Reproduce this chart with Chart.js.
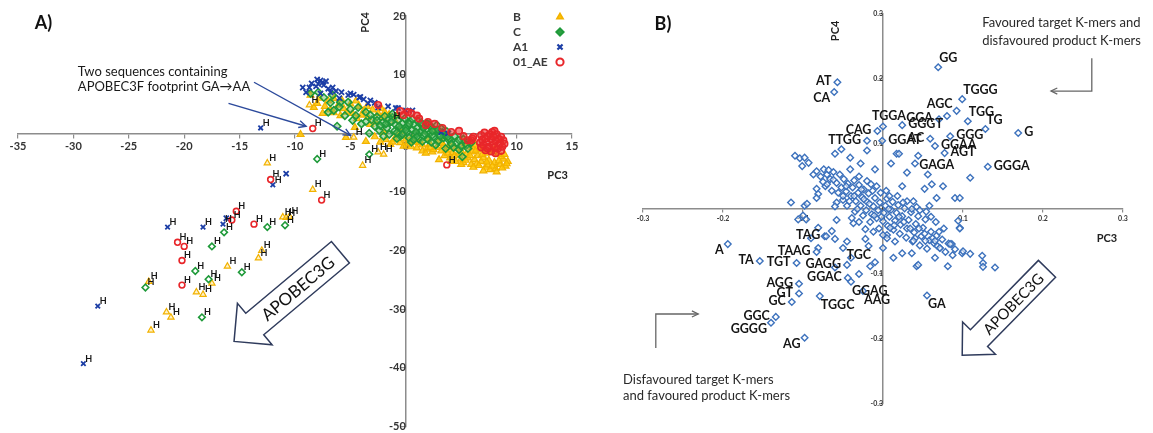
<!DOCTYPE html>
<html>
<head>
<meta charset="utf-8">
<title>PCA of HIV-1 sequences and K-mer loadings</title>
<script src="https://cdn.jsdelivr.net/npm/chart.js@4.4.1/dist/chart.umd.min.js"></script>
<style>
  html, body { margin: 0; padding: 0; background: #fff; }
  #page { position: relative; width: 1153px; height: 433px; overflow: hidden; }
  .panel { position: absolute; top: 0; height: 433px; }
  #panelA { left: 0; width: 590px; height: 438px; }
  #panelB { left: 590px; width: 563px; }
</style>
</head>
<body>
<div id="page">
  <div class="panel" id="panelA"><canvas id="chartA"></canvas></div>
  <div class="panel" id="panelB"><canvas id="chartB"></canvas></div>
</div>
<script>
const FONT = "Lato, 'Liberation Sans', Arial, sans-serif";
Chart.defaults.font.family = FONT;

// ---- A) PC3 / PC4 scores of each sequence, by subtype ----
const pointsB = [
  [-9.5,-0.2],[-8.6,6.5],[-8.3,4.4],[-8.0,5.1],[-7.5,3.4],[-7.0,5.5],[-6.8,4.0],[-6.5,5.9],[-6.1,4.8],[-5.9,3.0],
  [-5.6,4.2],[-5.4,-0.7],[-5.0,5.0],[-4.8,3.4],[-4.4,2.5],[-4.2,4.6],[-3.8,3.8],[-3.6,-1.4],[-3.4,2.7],[-3.2,1.5],
  [-3.0,4.0],[-2.7,1.9],[-2.5,3.4],[-2.3,-1.5],[-2.0,2.6],[-1.5,3.2],[-1.4,-1.9],[-1.0,2.2],[-1.0,-1.0],[-0.8,-0.3],
  [-0.5,-1.6],[0.0,-1.0],[0.2,-1.8],[0.8,-1.5],[1.0,-2.5],[1.5,-2.0],[2.0,-0.9],[2.2,-1.8],[2.5,0.5],[2.8,-2.4],
  [3.0,-1.3],[3.0,-4.5],[3.4,-2.1],[3.6,-2.9],[4.0,-1.8],[4.2,-3.3],[4.5,-2.6],[4.5,-4.8],[5.0,-3.0],[5.0,-4.4],
  [5.3,-2.3],[5.5,-3.5],[5.6,-4.2],[5.9,-5.3],[6.0,-2.4],[6.0,-3.2],[6.2,-4.5],[6.5,-3.8],[6.6,-2.8],[6.8,-4.8],
  [7.0,-4.2],[7.2,-3.4],[7.2,-5.8],[7.4,-5.4],[7.5,-4.6],[7.6,-6.2],[7.8,-3.2],[8.0,-5.0],[8.1,-6.0],[8.2,-6.6],
  [8.3,-3.6],[8.5,-5.3],[8.8,-4.4],[8.6,-4.0],[9.0,-5.6],[9.2,-4.8],[1.5,-3.0],[2.4,-3.2],[3.5,-3.8],[-4.6,1.0],
  [-2.0,0.2],[0.5,-2.3],[6.4,-5.2],[5.2,-5.0],[3.8,-3.4],[1.9,-2.7],[7.0,-6.4],[4.0,-4.2],
  [-2.8,-0.6],[-1.8,-1.1],[-0.2,-2.2],[0.6,-0.9],[1.2,-1.6],[1.8,-3.4],[2.5,-2.8],[3.2,-3.0],[3.9,-2.5],[4.4,-3.8],
  [4.8,-3.4],[5.4,-4.6],[5.8,-3.8],[6.3,-3.0],[6.9,-3.6],[7.3,-4.9],[7.8,-5.6],[8.4,-4.7],[8.7,-5.9],[9.1,-5.2],
  [6.1,-5.8],[6.6,-5.5],[5.0,-5.3],[4.1,-4.8],[2.2,-2.4],[3.3,-1.7],[0.3,-1.3],[-1.2,-1.5],[-0.5,0.3],[-6.5,3.5],
  [-5.3,3.6],[-4.0,3.1],[-7.3,4.6],[-3.5,4.6],[-2.2,4.2],[-1.9,3.6],[-0.8,3.0],[-7.8,6.0],[-5.8,5.7],[-4.5,5.5],
  [8.9,-3.6],[8.0,-2.8],[7.0,-2.6],[6.3,-2.0],[5.2,-1.6]
];
const pointsC = [
  [-8.6,6.8],[-7.9,7.0],[-7.4,6.1],[-7.0,3.6],[-6.6,6.5],[-6.5,3.9],[-6.2,1.2],[-5.9,5.3],[-5.5,3.0],[-5.2,5.3],
  [-4.8,2.2],[-4.3,4.4],[-4.0,1.6],[-3.6,3.6],[-3.3,0.0],[-3.1,2.3],[-2.8,1.2],[-2.6,2.8],[-2.4,0.5],[-2.1,1.8],
  [-1.9,2.9],[-1.7,0.9],[-1.5,-0.2],[-1.4,1.9],[-1.2,2.7],[-1.0,0.4],[-0.9,1.4],[-0.7,2.2],[-0.5,-0.5],[-0.4,0.8],
  [-0.3,1.7],[-0.1,2.5],[0.1,0.2],[0.2,1.2],[0.3,-0.8],[0.4,2.0],[0.6,0.6],[0.7,1.5],[0.8,-0.3],[1.0,0.9],
  [1.1,2.1],[1.2,-1.0],[1.3,0.1],[1.5,1.3],[1.6,-0.5],[1.8,0.6],[1.9,1.7],[2.0,-1.1],[2.2,0.0],[2.3,1.0],
  [2.5,-0.6],[2.6,0.5],[2.8,1.4],[2.9,-1.4],[3.0,-0.1],[3.2,0.8],[3.4,-0.8],[3.5,-0.4],[3.7,0.3],[3.9,-1.2],
  [4.0,-1.0],[4.3,-2.4],[4.4,-0.5],[4.6,-1.6],[4.8,-2.8],[5.0,-2.2],[5.2,-1.0],[5.5,-2.0],[5.9,-1.6],[5.1,-4.0],
  [3.6,-2.6],[-0.8,-0.9],[0.0,1.0],[1.4,0.4],[-2.0,-0.5],[2.7,-2.0],[0.5,-1.5],[-1.2,3.3],
  [-2.3,1.3],[-1.6,2.3],[-0.6,1.2],[0.3,1.6],[0.9,0.2],[1.6,0.9],[2.1,1.5],[2.4,-0.3],[2.9,0.6],[3.3,0.1],
  [0.0,0.5],[-0.8,0.1],[1.0,-0.6],[1.7,-0.1],[2.4,0.4],[3.1,-0.5],[-1.8,1.6],[-3.6,2.0],[-4.5,3.0],[-5.0,4.1],
  [-6.0,4.5],[-6.8,5.2],[-3.2,3.1],[-2.6,2.2],[0.6,2.4],[1.4,1.8],[4.1,-1.8],[4.8,-1.2],[5.6,-2.6],[3.8,-0.6],
  [-0.3,-0.2],[0.7,-1.1],[1.5,-1.4],[2.3,-1.5]
];
const pointsA1 = [
  [-9.3,7.8],[-9.0,7.0],[-8.7,7.8],[-8.1,8.0],[-7.7,9.0],[-7.5,8.7],[-7.4,8.2],[-7.2,8.9],[-7.7,6.8],[-6.8,7.0],
  [-6.3,7.2],[-6.0,6.0],[-5.2,6.5],[-5.0,6.8],[-4.2,6.1],[-4.1,6.2],[-3.4,5.1],[-3.2,5.6],[-2.5,4.4],[-0.9,4.3],
  [-0.7,4.3],[0.0,3.9],[3.2,0.2],[3.8,0.0],[-10.8,-6.9],[-16.2,-14.5],
  [-8.5,8.5],[-8.0,9.2],[-7.0,7.6],[-6.6,7.8],[-5.8,7.0],[-4.7,6.6],[-3.8,5.8],[-2.8,5.2],[-1.6,4.6],[0.6,3.9],[-7.9,8.4]
];
const points01AE = [
  [-2.5,4.8],[-0.5,3.8],[-0.2,3.1],[0.2,3.6],[0.5,3.4],[1.2,2.5],[1.8,1.4],[2.0,1.9],[4.1,0.2],[5.6,-1.2],
  [5.9,-1.2],[6.0,-0.9],[6.1,-0.6],[6.7,-1.6],[6.8,-0.3],[6.9,-1.1],[7.0,-2.0],[7.1,0.1],[7.2,-2.9],[7.3,-1.5],
  [7.4,-0.5],[7.5,-2.3],[7.6,-0.2],[7.7,-1.0],[7.7,-3.1],[7.8,0.2],[7.9,-2.0],[8.0,0.4],[8.1,-1.3],[8.1,-3.4],
  [8.2,-0.2],[8.3,-2.6],[8.5,-1.7],[8.6,-0.6],[8.6,-3.0],[8.7,-2.3],[8.8,-1.2],
  [7.2,-0.9],[7.9,-0.6],[8.4,-1.0],[8.9,-1.8],[7.4,-2.6],[8.0,-2.4],[6.8,-2.4],[1.0,3.0],[2.6,1.6],[3.3,0.9],
  [4.8,0.4],[5.2,-0.5]
];
// hypermutated sequences (marked "H")
const hyperB = [
  [-8.7,4.8],[-4.7,-0.7],[-2.5,-3.2],[-2.0,-3.6],[-3.9,-5.5],[-12.5,-5.1],[-8.4,-9.6],[-11.1,-14.3],[-10.8,-14.4],[-10.5,-14.2],
  [-13.0,-20.0],[-13.3,-21.3],[-16.1,-22.7],[-17.5,-25.6],[-18.9,-27.1],[-18.3,-27.5],[-23.2,-25.3],[-21.6,-30.5],[-21.2,-31.4],[-23.0,-33.6]
];
const hyperC = [
  [-8.0,-4.4],[-3.3,-3.6],[-1.3,2.0],[-12.5,-16.0],[-10.9,-15.7],[-16.4,-16.9],[-17.5,-19.3],[-14.8,-23.7],
  [-19.0,-23.5],[-17.8,-24.9],[-23.5,-26.3],[-18.4,-31.4]
];
const hyperA1 = [[-13.1,0.9],[-12.0,-8.8],[-21.5,-16.0],[-18.3,-16.0],[-16.5,-15.5],[-27.8,-29.5],[-29.1,-39.3]];
const hyper01AE = [
  [-8.4,0.8],[-12.2,-7.9],[-7.6,-11.4],[-15.3,-13.3],[-15.7,-14.8],[-13.7,-15.5],[-20.6,-18.6],[-20.0,-19.3],
  [-20.2,-21.7],[-20.2,-25.9],[3.7,-5.4]
];

// ---- B) PC3 / PC4 loadings of the K-mers ----
const kmerCloud = [
  [-0.104,0.078],[-0.11,0.082],[-0.098,0.079],[-0.101,0.066],[-0.093,0.071],[-0.087,0.053],[-0.083,0.058],[-0.078,0.05],
  [-0.074,0.061],[-0.07,0.053],[-0.066,0.046],[-0.062,0.057],[-0.058,0.04],[-0.054,0.053],[-0.052,0.033],[-0.049,0.046],
  [-0.046,0.027],[-0.044,0.039],[-0.041,0.061],[-0.04,0.02],[-0.038,0.033],[-0.036,0.044],[-0.034,0.012],[-0.031,0.025],
  [-0.03,0.037],[-0.028,0.005],[-0.026,0.018],[-0.024,0.03],[-0.021,-0.002],[-0.02,0.011],[-0.018,0.024],[-0.015,0.038],
  [-0.014,-0.008],[-0.012,0.004],[-0.01,0.017],[-0.008,-0.014],[-0.006,-0.002],[-0.004,0.01],[-0.003,0.025],[0.0,-0.019],
  [0.001,-0.006],[0.003,0.005],[0.005,0.016],[0.006,-0.026],[0.008,-0.012],[0.01,-0.001],[0.012,0.011],[0.013,-0.032],
  [0.015,-0.018],[0.017,-0.006],[0.019,0.006],[0.021,-0.038],[0.022,-0.024],[0.024,-0.011],[0.027,0.001],[0.029,-0.044],
  [0.03,-0.03],[0.032,-0.017],[0.035,-0.005],[0.037,-0.05],[0.039,-0.036],[0.041,-0.023],[0.044,-0.011],[0.046,-0.056],
  [0.048,-0.042],[0.05,-0.029],[0.053,-0.016],[0.055,-0.061],[0.058,-0.048],[0.06,-0.035],[0.064,-0.053],[0.067,-0.041],
  [0.071,-0.06],[0.074,-0.047],[0.078,-0.066],[0.082,-0.053],[0.087,-0.071],
  [-0.083,0.031],[-0.081,0.023],[-0.072,0.035],[-0.07,0.038],[-0.064,0.028],[-0.058,0.01],[-0.06,0.004],[-0.05,0.014],
  [-0.045,0.005],[-0.035,-0.004],[-0.025,-0.01],[-0.016,-0.02],[-0.005,-0.03],[0.005,-0.04],[0.015,-0.05],
  [-0.03,0.05],[-0.02,0.043],[-0.008,0.035],[0.004,0.028],[0.018,0.02],[0.03,0.012],[0.042,0.003],[0.054,-0.004],
  [0.066,-0.02],[0.076,-0.03],
  [-0.05,0.02],[-0.042,0.012],[-0.032,0.0],[-0.027,0.03],[-0.017,0.008],[-0.011,-0.01],[-0.002,-0.012],[0.007,0.0],
  [0.014,-0.025],[0.02,-0.012],[0.026,-0.02],[0.034,-0.03],[0.04,-0.045],[0.045,-0.03],[0.052,-0.038],[0.062,-0.045],
  [-0.062,0.045],[-0.056,0.025],[-0.046,0.035],[-0.036,0.02],[-0.024,0.015],[-0.013,0.028],[0.008,0.02],[0.025,0.01],
  [0.036,0.0],[0.06,-0.012],[0.07,-0.035],[-0.075,0.042],[-0.068,0.06],[-0.012,-0.035],[-0.03,-0.02],[0.0,-0.04],
  [-0.098,0.005],[-0.083,0.017],[-0.095,0.008],[-0.106,-0.016],[-0.096,-0.016],[-0.058,-0.017],[-0.039,-0.014],[-0.037,-0.022],
  [-0.022,-0.031],[0.009,-0.029],[0.005,-0.045],[0.0,-0.06],[0.013,-0.075],[0.024,-0.068],[0.036,-0.068],[0.042,-0.088],
  [0.053,-0.049],[0.065,-0.049],[0.068,-0.057],[0.081,-0.088],[0.096,-0.029],[0.086,-0.054],[0.099,-0.068],[0.109,-0.069],
  [0.124,-0.072],[0.125,-0.083],[0.125,-0.089],[0.14,-0.09],[0.038,-0.049],[-0.081,-0.029],[-0.073,-0.042],[-0.06,-0.046],
  [-0.081,-0.06],[-0.022,-0.046],[-0.018,-0.057],[-0.016,-0.088],[0.094,-0.018],[0.096,-0.03],[0.071,-0.06],[0.09,-0.062],
  [0.044,-0.086],[0.1,-0.065],[0.084,-0.054],[-0.064,-0.034],[-0.05,-0.06],[-0.04,-0.075],[-0.045,-0.05],[-0.09,-0.045],
  [-0.1,-0.01],[-0.052,0.092],[-0.02,0.09],[0.017,0.085],[0.01,0.07],[0.04,0.07],[-0.01,0.061],[0.03,0.056],[0.056,0.053],
  [0.061,0.038],[0.109,0.048],[0.052,0.031],[0.067,0.017],[0.09,0.017],[0.096,0.017],[0.024,0.035],[0.038,0.012],[0.02,0.085],
  [-0.041,0.079],[-0.06,0.085],[-0.028,0.07],[0.075,0.035],[0.046,-0.002],[0.058,0.005],[-0.115,0.01],[0.08,0.143],
  [-0.06,-0.09],[-0.03,-0.1],[0.065,-0.075]
];
const kmerNames = [
  'AT','CA','GG','TGGG','AGC','GGA','TGG','TG','G','CAG','TGGA','GGGT','GGG','TTGG','GGAT','AC','GGAA','AGT','GAGA','GGGA',
  'A','TA','TGT','TAAG','TAG','AGG','GT','GC','GGC','GGGG','AG','GAGG','GGAC','TGC','GGAG','AAG','GA','TGGC'
];
const kmerPoints = [
  [-0.057,0.195],[-0.061,0.18],[0.069,0.218],[0.099,0.169],[0.092,0.151],[0.07,0.138],[0.106,0.135],[0.128,0.123],
  [0.169,0.117],[-0.007,0.12],[0.0,0.127],[0.024,0.129],[0.084,0.112],[-0.02,0.105],[-0.001,0.105],[0.059,0.108],
  [0.065,0.097],[0.077,0.086],[0.044,0.082],[0.131,0.065],
  [-0.194,-0.054],[-0.154,-0.08],[-0.108,-0.083],[-0.083,-0.066],[-0.071,-0.042],[-0.105,-0.115],[-0.105,-0.13],
  [-0.114,-0.143],[-0.134,-0.166],[-0.14,-0.175],[-0.098,-0.198],[-0.045,-0.086],[-0.044,-0.106],[-0.01,-0.082],
  [-0.04,-0.112],[-0.025,-0.126],[0.055,-0.133],[-0.079,-0.134]
];

// ---- styles ----
const xy = arr => arr.map(p => ({ x: p[0], y: p[1] }));

const subtypeStyle = {
  'B':     { pointStyle: 'triangle', border: '#f2b200', fill: 'rgba(255,196,0,0.85)', hollow: 'rgba(255,214,90,0.35)', radius: 4.0, width: 1.2 },
  'C':     { pointStyle: 'rectRot',  border: '#1f9a3a', fill: 'rgba(90,185,95,0.45)', hollow: 'rgba(255,255,255,0.2)', radius: 3.7, width: 1.6 },
  'A1':    { pointStyle: 'crossRot', border: '#1c3ea6', fill: '#1c3ea6', hollow: '#1c3ea6', radius: 3.6, width: 1.8 },
  '01_AE': { pointStyle: 'circle',   border: '#e8262a', fill: 'rgba(235,40,40,0.55)', hollow: 'rgba(255,255,255,0)', radius: 3.3, width: 1.6 }
};

function subtypeSet(name, pts, hyper) {
  const s = subtypeStyle[name];
  return {
    label: name, data: xy(pts), hyper: hyper,
    pointStyle: s.pointStyle, pointRadius: hyper ? s.radius - 0.4 : s.radius, pointBorderWidth: s.width,
    pointBorderColor: s.border, pointBackgroundColor: hyper ? s.hollow : s.fill
  };
}

// first dataset is drawn on top
const datasetsA = [
  subtypeSet('01_AE', hyper01AE, true), subtypeSet('A1', hyperA1, true),
  subtypeSet('C', hyperC, true), subtypeSet('B', hyperB, true),
  subtypeSet('01_AE', points01AE, false), subtypeSet('A1', pointsA1, false),
  subtypeSet('C', pointsC, false), subtypeSet('B', pointsB, false)
];

const kmerStyle = {
  pointStyle: 'rectRot', pointRadius: 3.3, pointBorderWidth: 1.4,
  pointBorderColor: '#3d72bd', pointBackgroundColor: 'rgba(255,255,255,0.55)'
};
const datasetsB = [
  Object.assign({ label: 'labelled', data: xy(kmerPoints) }, kmerStyle),
  Object.assign({ label: 'kmers', data: xy(kmerCloud) }, kmerStyle)
];

function centredAxis(min, max, step, at, size, pad, tickLen) {
  return {
    type: 'linear', min: min, max: max, position: at,
    ticks: {
      stepSize: step, autoSkip: false, padding: pad, color: '#333',
      font: { size: size, weight: 'bold' },
      callback: v => (Math.round(v * 10) / 10).toString()
    },
    grid: { drawOnChartArea: false, tickLength: tickLen, color: '#8c8c8c', lineWidth: 1.2 },
    border: { color: '#8c8c8c', width: 1.5 }
  };
}

// ---- drawing helpers ----
function openArrow(ctx, pts, head) {
  ctx.beginPath();
  ctx.moveTo(pts[0][0], pts[0][1]);
  for (let i = 1; i < pts.length; i++) ctx.lineTo(pts[i][0], pts[i][1]);
  ctx.stroke();
  const [x1, y1] = pts[pts.length - 2], [x2, y2] = pts[pts.length - 1];
  const a = Math.atan2(y2 - y1, x2 - x1);
  ctx.beginPath();
  ctx.moveTo(x2 - head * Math.cos(a - 0.45), y2 - head * Math.sin(a - 0.45));
  ctx.lineTo(x2, y2);
  ctx.lineTo(x2 - head * Math.cos(a + 0.45), y2 - head * Math.sin(a + 0.45));
  ctx.stroke();
}

function blockArrow(ctx, tip, tail, shaftHalf, headHalf, headLen, text, fontSize) {
  const len = Math.hypot(tip[0] - tail[0], tip[1] - tail[1]);
  const ux = (tip[0] - tail[0]) / len, uy = (tip[1] - tail[1]) / len;
  const nx = -uy, ny = ux;
  const bx = tip[0] - ux * headLen, by = tip[1] - uy * headLen;
  ctx.beginPath();
  ctx.moveTo(tail[0] + nx * shaftHalf, tail[1] + ny * shaftHalf);
  ctx.lineTo(bx + nx * shaftHalf, by + ny * shaftHalf);
  ctx.lineTo(bx + nx * headHalf, by + ny * headHalf);
  ctx.lineTo(tip[0], tip[1]);
  ctx.lineTo(bx - nx * headHalf, by - ny * headHalf);
  ctx.lineTo(bx - nx * shaftHalf, by - ny * shaftHalf);
  ctx.lineTo(tail[0] - nx * shaftHalf, tail[1] - ny * shaftHalf);
  ctx.closePath();
  ctx.fillStyle = '#fff';
  ctx.fill();
  ctx.strokeStyle = '#2f3b5c';
  ctx.lineWidth = 1.5;
  ctx.stroke();
  ctx.save();
  ctx.translate((bx + tail[0]) / 2, (by + tail[1]) / 2);
  ctx.rotate(Math.atan2(-uy, -ux));
  ctx.fillStyle = '#111';
  ctx.font = fontSize + 'px ' + FONT;
  ctx.textAlign = 'center';
  ctx.textBaseline = 'middle';
  ctx.fillText(text, 0, 1);
  ctx.restore();
}

function rotatedText(ctx, text, x, y, font) {
  ctx.save();
  ctx.translate(x, y);
  ctx.rotate(-Math.PI / 2);
  ctx.font = font;
  ctx.textAlign = 'center';
  ctx.textBaseline = 'middle';
  ctx.fillText(text, 0, 0);
  ctx.restore();
}

// ---- panel A decorations ----
const legendOrder = ['B', 'C', 'A1', '01_AE'];
const legendFill = { 'B': '#ffc000', 'C': '#2ea043', 'A1': '#1c3ea6', '01_AE': 'rgba(255,255,255,0)' };

const panelADecor = {
  id: 'panelADecor',
  afterDatasetsDraw(chart) {
    const ctx = chart.ctx, sx = chart.scales.x, sy = chart.scales.y, area = chart.chartArea;
    const P = (x, y) => [sx.getPixelForValue(x), sy.getPixelForValue(y)];
    ctx.save();

    // "H" next to hypermutated sequences
    ctx.font = 'bold 9px ' + FONT;
    ctx.fillStyle = '#151515';
    ctx.textAlign = 'left';
    ctx.textBaseline = 'bottom';
    chart.data.datasets.forEach((ds, i) => {
      if (!ds.hyper) return;
      chart.getDatasetMeta(i).data.forEach(pt => ctx.fillText('H', pt.x + 2, pt.y - 0.5));
    });

    // legend: label then marker
    legendOrder.forEach((name, i) => {
      const s = subtypeStyle[name];
      const y = area.top + 1 + i * 15;
      ctx.font = 'bold 12px ' + FONT;
      ctx.fillStyle = '#3a3a3a';
      ctx.textAlign = 'left';
      ctx.textBaseline = 'middle';
      ctx.fillText(name, area.right - 59, y);
      ctx.fillStyle = legendFill[name];
      ctx.strokeStyle = s.border;
      ctx.lineWidth = s.width + 0.4;
      Chart.helpers.drawPoint(ctx, { pointStyle: s.pointStyle, radius: 3.6, borderWidth: s.width + 0.4, rotation: 0 },
        area.right - 12, y);
    });

    // axis titles and panel letter
    ctx.fillStyle = '#222';
    const pc4 = P(-3.6, 18.9);
    rotatedText(ctx, 'PC4', pc4[0], pc4[1], 'bold 11px ' + FONT);
    const pc3 = P(13.7, -7.2);
    ctx.font = 'bold 11px ' + FONT;
    ctx.textAlign = 'center';
    ctx.textBaseline = 'middle';
    ctx.fillText('PC3', pc3[0], pc3[1]);
    const letter = P(-32.7, 18.8);
    ctx.font = 'bold 18px ' + FONT;
    ctx.fillStyle = '#111';
    ctx.fillText('A)', letter[0], letter[1]);

    // note on the APOBEC3F footprint
    ctx.font = '13px ' + FONT;
    ctx.fillStyle = '#1a1a1a';
    ctx.textAlign = 'left';
    const n1 = P(-29.6, 10.4), n2 = P(-29.6, 8.0);
    ctx.fillText('Two sequences containing', n1[0], n1[1]);
    ctx.fillText('APOBEC3F footprint GA\u2192AA', n2[0], n2[1]);
    ctx.strokeStyle = '#2c4a9c';
    ctx.lineWidth = 1.4;
    openArrow(ctx, [P(-13.7, 8.7), P(-5.0, -0.35)], 8);
    openArrow(ctx, [P(-16.0, 5.1), P(-9.0, 1.2)], 8);

    blockArrow(ctx, P(-15.5, -35.5), P(-5.9, -20.3), 14, 27, 27, 'APOBEC3G', 17);
    ctx.restore();
  }
};

// ---- panel B decorations ----
const kmerLabelSide = [
  'l','lb','ra','ra','la','l','ra','ra','r','l','a','r','r','l','r','l','r','r','rb','r',
  'lb','l','l','l','l','l','l','l','l','lb','lb','l','l','la','rb','rb','rb','rb'
];
const labelOffset = {
  l: [-6, -1, 'right'], lb: [-4, 6, 'right'], la: [-4, -7, 'right'],
  r: [6, -1, 'left'], ra: [1, -9, 'left'], rb: [1, 9, 'left'], a: [6, -10, 'center']
};

const panelBDecor = {
  id: 'panelBDecor',
  afterDatasetsDraw(chart) {
    const ctx = chart.ctx, sx = chart.scales.x, sy = chart.scales.y;
    const P = (x, y) => [sx.getPixelForValue(x), sy.getPixelForValue(y)];
    ctx.save();

    // K-mer names beside their points
    ctx.font = 'bold 12.5px ' + FONT;
    ctx.fillStyle = '#151515';
    ctx.textBaseline = 'middle';
    chart.getDatasetMeta(0).data.forEach((pt, i) => {
      const off = labelOffset[kmerLabelSide[i]];
      ctx.textAlign = off[2];
      ctx.fillText(kmerNames[i], pt.x + off[0], pt.y + off[1]);
    });

    // axis titles and panel letter
    ctx.fillStyle = '#222';
    const pc4 = P(-0.06, 0.274);
    rotatedText(ctx, 'PC4', pc4[0], pc4[1], 'bold 11px ' + FONT);
    const pc3 = P(0.28, -0.046);
    ctx.font = 'bold 11px ' + FONT;
    ctx.textAlign = 'center';
    ctx.fillText('PC3', pc3[0], pc3[1]);
    const letter = P(-0.275, 0.285);
    ctx.font = 'bold 18px ' + FONT;
    ctx.fillStyle = '#111';
    ctx.fillText('B)', letter[0], letter[1]);

    // quadrant notes with elbow arrows
    ctx.font = '13px ' + FONT;
    ctx.fillStyle = '#2a2a2a';
    ctx.textAlign = 'left';
    let t = P(0.124, 0.286);
    ctx.fillText('Favoured target K-mers and', t[0], t[1]);
    t = P(0.124, 0.258);
    ctx.fillText('disfavoured product K-mers', t[0], t[1]);
    t = P(-0.325, -0.263);
    ctx.fillText('Disfavoured target K-mers', t[0], t[1]);
    t = P(-0.325, -0.288);
    ctx.fillText('and favoured product K-mers', t[0], t[1]);
    ctx.strokeStyle = '#666';
    ctx.lineWidth = 1.3;
    openArrow(ctx, [P(0.261, 0.232), P(0.261, 0.1815), P(0.21, 0.1815)], 7);
    openArrow(ctx, [P(-0.284, -0.214), P(-0.284, -0.1615), P(-0.231, -0.1615)], 7);

    blockArrow(ctx, P(0.099, -0.225), P(0.205, -0.092), 12, 23, 24, 'APOBEC3G', 15);
    ctx.restore();
  }
};

new Chart(document.getElementById('chartA'), {
  type: 'scatter',
  data: { datasets: datasetsA },
  options: {
    responsive: true,
    maintainAspectRatio: false,
    animation: false,
    events: [],
    layout: { padding: { left: 18, right: 18, top: 16, bottom: 2 } },
    plugins: { legend: { display: false }, tooltip: { enabled: false } },
    scales: {
      x: centredAxis(-35, 15, 5, { y: 0 }, 11, 3, 4),
      y: centredAxis(-50, 20, 10, { x: 0 }, 11, 5, 4)
    }
  },
  plugins: [panelADecor]
});

new Chart(document.getElementById('chartB'), {
  type: 'scatter',
  data: { datasets: datasetsB },
  options: {
    responsive: true,
    maintainAspectRatio: false,
    animation: false,
    events: [],
    layout: { padding: { left: 53, right: 30, top: 14, bottom: 29 } },
    plugins: { legend: { display: false }, tooltip: { enabled: false } },
    scales: {
      x: centredAxis(-0.3, 0.3, 0.1, { y: 0 }, 7, 3, 3),
      y: centredAxis(-0.3, 0.3, 0.1, { x: 0 }, 7, 6, 3)
    }
  },
  plugins: [panelBDecor]
});
</script>
</body>
</html>
